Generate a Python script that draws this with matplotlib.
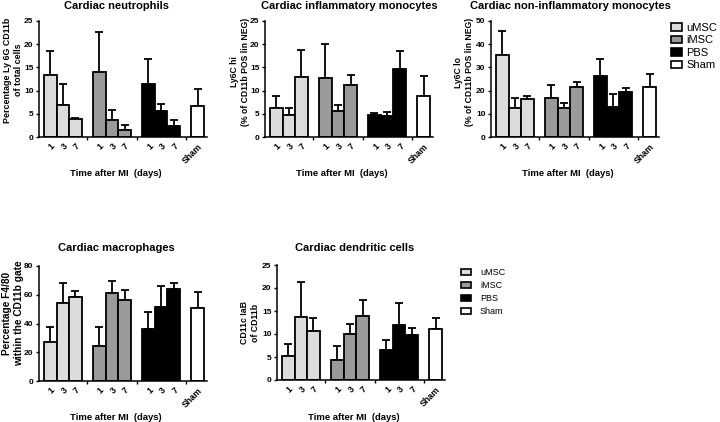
import matplotlib
matplotlib.use('Agg')
import matplotlib.pyplot as plt
from matplotlib.patches import Patch
import numpy as np

plt.rcParams['font.family'] = ['Liberation Sans', 'DejaVu Sans']

groups = ['uMSC', 'iMSC', 'PBS', 'Sham']
days = ['1', '3', '7']
colors = ['#dcdcdc', '#9a9a9a', '#000000', '#ffffff']

# bar order: uMSC d1,d3,d7 | iMSC d1,d3,d7 | PBS d1,d3,d7 | Sham
neu_mean = [13.3, 6.8, 3.8, 14.0, 3.7, 1.6, 11.4, 5.6, 2.3, 6.6]
neu_err = [5.3, 4.7, 0.3, 8.7, 2.2, 0.9, 5.4, 1.5, 1.3, 3.8]

inf_mean = [6.2, 4.7, 12.9, 12.8, 5.7, 11.1, 4.7, 4.5, 14.7, 8.9]
inf_err = [2.6, 1.5, 5.8, 7.2, 1.3, 2.3, 0.4, 0.8, 3.9, 4.3]

non_mean = [35.5, 12.3, 16.2, 16.7, 12.3, 21.4, 26.4, 12.8, 19.6, 21.4]
non_err = [10.2, 4.4, 1.6, 5.8, 2.2, 2.5, 7.4, 5.6, 1.4, 5.8]

mac_mean = [26.9, 54.5, 58.2, 24.3, 61.4, 56.3, 35.9, 51.7, 63.8, 51.0]
mac_err = [10.9, 13.4, 4.4, 13.0, 8.4, 7.0, 11.9, 14.4, 4.6, 10.7]

dc_mean = [5.2, 13.8, 10.7, 4.3, 10.1, 13.9, 6.5, 12.0, 9.8, 11.1]
dc_err = [2.6, 7.4, 2.7, 3.1, 2.1, 3.5, 2.3, 4.7, 1.6, 2.3]

W, H = 720, 422
fig = plt.figure(figsize=(W / 100, H / 100), dpi=100)

GS = 3.9  # group step in bar widths
xpos = [g * GS + i for g in range(3) for i in range(3)] + [3 * GS]
bar_colors = [colors[g] for g in range(3) for i in range(3)] + [colors[3]]
xlabels = days * 3 + ['Sham']


def make_panel(left_px, top_px, bottom_px, mean, err, ymax, ystep,
               title, title_xy, ylabel, ylabel_xy, ylabel_fs, xlabel_xy):
    width_px = 168
    ax = fig.add_axes([left_px / W, (H - bottom_px) / H, width_px / W,
                       (bottom_px - top_px) / H])
    ax.bar(xpos, mean, width=1.0, color=bar_colors, edgecolor='black',
           linewidth=1.3, zorder=2)
    yerr = [np.zeros(len(err)), err]
    ax.errorbar(xpos, mean, yerr=yerr, fmt='none', ecolor='black',
                elinewidth=1.3, capsize=2.6, capthick=1.3, zorder=1)
    ax.set_xlim(-0.9, 12.45)
    ax.set_ylim(0, ymax)
    ax.set_yticks(np.arange(0, ymax + 0.01, ystep))
    ax.set_yticklabels([f'{int(v)}' for v in np.arange(0, ymax + 0.01, ystep)],
                       fontsize=6.0, fontweight='bold')
    ax.set_xticks(xpos)
    ax.set_xticklabels(xlabels, rotation=45, ha='right', va='top',
                       rotation_mode='anchor', fontsize=6.3, fontweight='bold')
    ax.tick_params(axis='x', length=0, pad=3.5)
    ax.set_xticks([2.95, 6.85, 10.75], minor=True)
    ax.tick_params(axis='x', which='minor', length=2.5, width=1.0)
    ax.tick_params(axis='y', length=2.5, width=1.0, pad=1.5)
    for s in ['top', 'right']:
        ax.spines[s].set_visible(False)
    for s in ['left', 'bottom']:
        ax.spines[s].set_linewidth(1.1)
    ax.set_facecolor('none')
    fig.text(title_xy[0] / W, 1 - title_xy[1] / H, title, ha='center',
             va='center', fontsize=8, fontweight='bold')
    fig.text(xlabel_xy[0] / W, 1 - xlabel_xy[1] / H, 'Time after MI  (days)',
             ha='center', va='center', fontsize=6.8, fontweight='bold')
    fig.text(ylabel_xy[0] / W, 1 - ylabel_xy[1] / H, ylabel, ha='center',
             va='center', rotation=90, fontsize=ylabel_fs, fontweight='bold',
             multialignment='center', linespacing=1.2)
    return ax


make_panel(39, 21, 137, neu_mean, neu_err, 25, 5, 'Cardiac neutrophils',
           (116, 6), 'Percentage Ly 6G CD11b\nof total cells', (13, 70), 6.4,
           (116, 173))
make_panel(265, 21, 137, inf_mean, inf_err, 25, 5,
           'Cardiac inflammatory monocytes', (349, 6),
           'Ly6C hi\n(% of CD11b POS lin NEG)', (240, 72), 6.2, (342, 173))
make_panel(491, 21, 137, non_mean, non_err, 50, 10,
           'Cardiac non-inflammatory monocytes', (570, 6),
           'Ly6C lo\n(% of CD11b POS lin NEG)', (464, 72), 6.2, (568, 173))
make_panel(39, 266, 381, mac_mean, mac_err, 80, 20, 'Cardiac macrophages',
           (116, 248), 'Percentage F4/80\nwithin the CD11b gate', (13, 313),
           7.3, (116, 417))
make_panel(277, 265, 380, dc_mean, dc_err, 25, 5, 'Cardiac dendritic cells',
           (355, 248), 'CD11c IaB\nof CD11b', (250, 323), 6.3, (354, 417))

handles = [Patch(facecolor=c, edgecolor='black', linewidth=1.2) for c in colors]
fig.legend(handles, groups, loc='upper left',
           bbox_to_anchor=(671 / W, 1 - 23 / H), frameon=False, fontsize=8,
           handlelength=1.0, handleheight=0.62, handletextpad=0.4,
           labelspacing=0.22, borderpad=0, borderaxespad=0)
fig.legend(handles, groups, loc='upper left',
           bbox_to_anchor=(461 / W, 1 - 268 / H), frameon=False, fontsize=6.5,
           handlelength=1.1, handleheight=0.65, handletextpad=1.0,
           labelspacing=0.45, borderpad=0, borderaxespad=0)

fig.savefig('out.png', dpi=100)
